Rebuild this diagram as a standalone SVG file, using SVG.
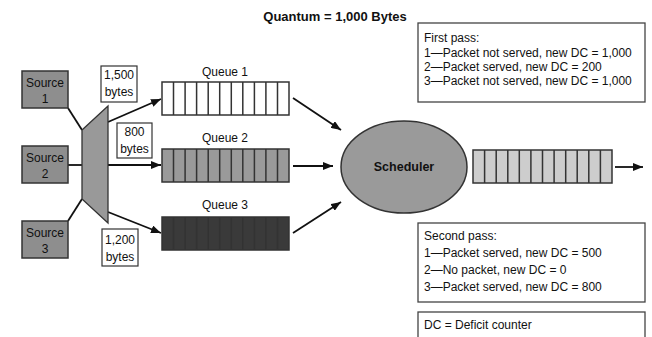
<svg xmlns="http://www.w3.org/2000/svg" width="652" height="337" viewBox="0 0 652 337">
<defs>
<marker id="ah" viewBox="0 0 10 8" refX="10" refY="4" markerWidth="10" markerHeight="8" markerUnits="userSpaceOnUse" orient="auto">
<path d="M0,0 L10,4 L0,8 Z" fill="#111"/>
</marker>
<style>
text{font-family:"Liberation Sans","Open Sans",sans-serif;fill:#111;}
.t{font-size:12px;text-anchor:middle;}
.b{font-size:13px;font-weight:bold;text-anchor:middle;}
.l{font-size:12px;}
.src{fill:#8e8e8e;stroke:#333;stroke-width:1.5;}
.lab{fill:#fff;stroke:#333;stroke-width:1.2;}
.q{stroke:#333;stroke-width:1.5;}
.div{stroke:#333;stroke-width:1.5;fill:none;}
.c{stroke:#111;stroke-width:1.8;fill:none;}
.a{stroke:#111;stroke-width:1.8;fill:none;marker-end:url(#ah);}
.box{fill:#fff;stroke:#444;stroke-width:1.3;}
</style>
</defs>
<rect width="652" height="337" fill="#fff"/>
<text class="b" x="335" y="21">Quantum = 1,000 Bytes</text>

<g id="connectors">
<path class="c" d="M68,108 L82,130"/>
<path class="c" d="M68,165 L82,165"/>
<path class="c" d="M68,221 L82,199"/>
<path class="a" d="M108,122 L161,99"/>
<path class="a" d="M108,165 L161,165"/>
<path class="a" d="M108,212 L161,233"/>
<path class="a" d="M293,98 L341,130"/>
<path class="a" d="M293,166 L333,166"/>
<path class="a" d="M293,233 L341,202"/>
<path class="a" d="M615,167 L643,167"/>
</g>

<g id="source1"><rect class="src" x="22" y="71" width="46" height="37"/><text class="t" x="45" y="87">Source</text><text class="t" x="45" y="103">1</text></g>
<g id="source2"><rect class="src" x="22" y="146" width="46" height="37"/><text class="t" x="45" y="162">Source</text><text class="t" x="45" y="178">2</text></g>
<g id="source3"><rect class="src" x="22" y="221" width="46" height="37"/><text class="t" x="45" y="237">Source</text><text class="t" x="45" y="253">3</text></g>

<g id="mux"><path d="M82,130 L108,106 L108,223 L82,199 Z" fill="#999" stroke="#333" stroke-width="1.3"/></g>

<g id="bytes1"><rect class="lab" x="101" y="66" width="36" height="36"/><text class="t" x="119" y="79">1,500</text><text class="t" x="119" y="96">bytes</text></g>
<g id="bytes2"><rect class="lab" x="117" y="123" width="35" height="35"/><text class="t" x="134.5" y="136">800</text><text class="t" x="134.5" y="153">bytes</text></g>
<g id="bytes3"><rect class="lab" x="102" y="229" width="36" height="37"/><text class="t" x="120" y="244">1,200</text><text class="t" x="120" y="261">bytes</text></g>

<g id="queue1">
<text class="t" x="225" y="76">Queue 1</text>
<rect class="q" x="162" y="82" width="127" height="33" fill="#fff"/>
<path class="div" d="M173.5,82v33M185.1,82v33M196.6,82v33M208.2,82v33M219.7,82v33M231.3,82v33M242.8,82v33M254.4,82v33M265.9,82v33M277.5,82v33"/>
</g>
<g id="queue2">
<text class="t" x="225" y="142">Queue 2</text>
<rect class="q" x="162" y="149" width="127" height="33" fill="#9a9a9a"/>
<path class="div" d="M173.5,149v33M185.1,149v33M196.6,149v33M208.2,149v33M219.7,149v33M231.3,149v33M242.8,149v33M254.4,149v33M265.9,149v33M277.5,149v33"/>
</g>
<g id="queue3">
<text class="t" x="225" y="209">Queue 3</text>
<rect class="q" x="162" y="217" width="127" height="33" fill="#3a3a3a"/>
<path class="div" d="M173.5,217v33M185.1,217v33M196.6,217v33M208.2,217v33M219.7,217v33M231.3,217v33M242.8,217v33M254.4,217v33M265.9,217v33M277.5,217v33" stroke="#222"/>
</g>

<g id="scheduler">
<ellipse cx="404" cy="167" rx="63" ry="46" fill="#9a9a9a" stroke="#333" stroke-width="1.5"/>
<text class="b" x="404" y="171" style="font-size:12.5px">Scheduler</text>
</g>

<g id="output">
<rect class="q" x="473" y="150" width="139" height="33" fill="#cdcdcd"/>
<path class="div" d="M484.6,150v33M496.2,150v33M507.8,150v33M519.3,150v33M530.9,150v33M542.5,150v33M554.1,150v33M565.7,150v33M577.2,150v33M588.8,150v33M600.4,150v33"/>
</g>

<g id="firstpass">
<rect class="box" x="418" y="23" width="227" height="79"/>
<text class="l" x="424" y="42">First pass:</text>
<text class="l" x="424" y="57">1—Packet not served, new DC = 1,000</text>
<text class="l" x="424" y="71">2—Packet served, new DC = 200</text>
<text class="l" x="424" y="85">3—Packet not served, new DC = 1,000</text>
</g>

<g id="secondpass">
<rect class="box" x="418" y="223" width="227" height="79"/>
<text class="l" x="424" y="240">Second pass:</text>
<text class="l" x="424" y="257">1—Packet served, new DC = 500</text>
<text class="l" x="424" y="274">2—No packet, new DC = 0</text>
<text class="l" x="424" y="291">3—Packet served, new DC = 800</text>
</g>

<g id="legend">
<rect class="box" x="418" y="312" width="227" height="40"/>
<text class="l" x="424" y="329">DC = Deficit counter</text>
</g>
</svg>
